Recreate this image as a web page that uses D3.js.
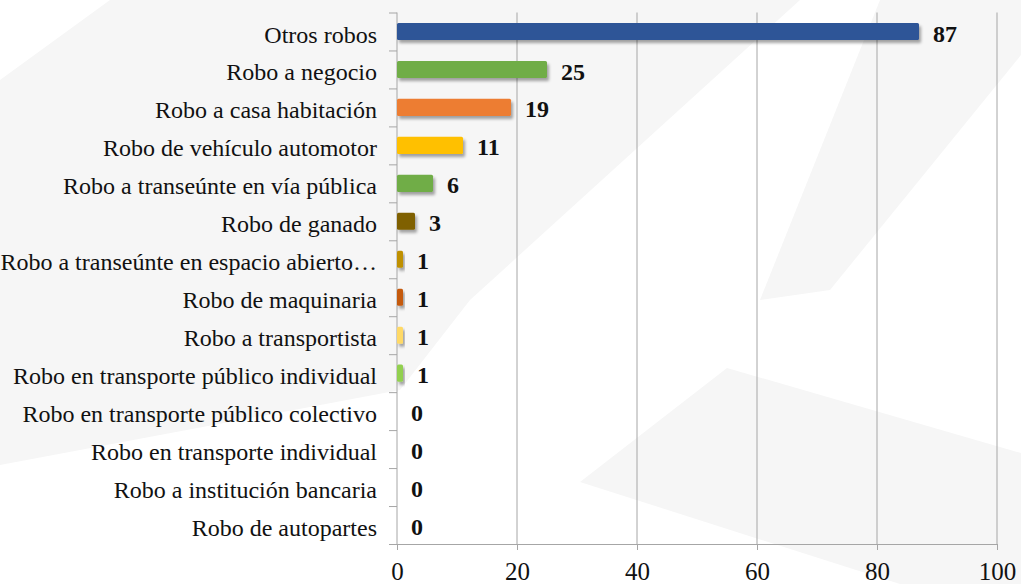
<!DOCTYPE html>
<html>
<head>
<meta charset="utf-8">
<script src="https://cdn.jsdelivr.net/npm/d3@7"></script>
<style>
  html, body { margin: 0; padding: 0; background: #fff; }
  #chart { width: 1021px; height: 584px; }
  svg text { font-family: "Liberation Serif", "Times New Roman", Tinos, "DejaVu Serif", serif; }
</style>
</head>
<body>
<div id="chart"></div>
<script>
// datos
const categories = [
  "Otros robos",
  "Robo a negocio",
  "Robo a casa habitación",
  "Robo de vehículo automotor",
  "Robo a transeúnte en vía pública",
  "Robo de ganado",
  "Robo a transeúnte en espacio abierto…",
  "Robo de maquinaria",
  "Robo a transportista",
  "Robo en transporte público individual",
  "Robo en transporte público colectivo",
  "Robo en transporte individual",
  "Robo a institución bancaria",
  "Robo de autopartes"
];
const values = [87, 25, 19, 11, 6, 3, 1, 1, 1, 1, 0, 0, 0, 0];
const barColors = [
  "#2F5597", "#70AD47", "#ED7D31", "#FFC000", "#70AD47", "#7F6000", "#BF9000",
  "#C55A11", "#FFD966", "#92D050", "#A9D18E", "#A9D18E", "#A9D18E", "#A9D18E"
];
const xTicks = [0, 20, 40, 60, 80, 100];

const W = 1021, H = 584;
const margin = { top: 12.5, right: 24, bottom: 40, left: 397 };
const width = W - margin.left - margin.right;
const height = H - margin.top - margin.bottom;

const svgRoot = d3.select("#chart").append("svg")
  .attr("width", W).attr("height", H);

// fondo con marca de agua diagonal (decorativo)
const bg = svgRoot.append("g");
bg.append("rect").attr("width", W).attr("height", H).attr("fill", "#fff");
const wm = [
  [[110, 0], [800, 0], [470, 300], [400, 390], [0, 465], [0, 80]],
  [[880, 0], [1021, 0], [1021, 55], [830, 290], [760, 300]],
  [[727, 368], [1021, 453], [1021, 584], [900, 584], [580, 482]]
];
bg.selectAll("polygon").data(wm).join("polygon")
  .attr("points", d => d.map(p => p.join(",")).join(" "))
  .attr("fill", "#f6f6f6");

const defs = svgRoot.append("defs");
const f = defs.append("filter").attr("id", "sombra")
  .attr("x", "-20%").attr("y", "-40%").attr("width", "150%").attr("height", "200%");
f.append("feDropShadow").attr("dx", 2).attr("dy", 3).attr("stdDeviation", 1.8)
  .attr("flood-color", "#000").attr("flood-opacity", 0.35);

const svg = svgRoot.append("g")
  .attr("transform", `translate(${margin.left},${margin.top})`);

const x = d3.scaleLinear().domain([0, 100]).range([0, width]);
const y = d3.scaleBand().domain(categories).range([0, height])
  .paddingInner(0.55).paddingOuter(0.275);
// límites de cada categoría, para las marcas del eje vertical
const yEdges = d3.scaleLinear().domain([0, categories.length]).range([0, height]);

// líneas de cuadrícula verticales
svg.append("g")
  .selectAll("line")
  .data(xTicks.filter(t => t > 0))
  .join("line")
  .attr("x1", d => x(d)).attr("x2", d => x(d))
  .attr("y1", 0).attr("y2", height)
  .attr("stroke", "#a6a6a6").attr("stroke-width", 1);

// eje X
const gx = svg.append("g")
  .attr("transform", `translate(0,${height})`)
  .call(d3.axisBottom(x).tickValues(xTicks).tickSize(6).tickPadding(12).tickFormat(d3.format("d")));
gx.select(".domain").attr("stroke", "#a6a6a6");
gx.selectAll(".tick line").attr("stroke", "#a6a6a6");
gx.selectAll("text")
  .attr("fill", "#111")
  .attr("font-family", null)
  .style("font-size", "25px");

// eje Y: línea y marcas en los límites
const gy = svg.append("g")
  .call(d3.axisLeft(yEdges).tickValues(d3.range(categories.length + 1)).tickSize(8).tickFormat(""));
gy.select(".domain").attr("stroke", "#a6a6a6").attr("d", `M0,0V${height}`);
gy.selectAll(".tick line").attr("stroke", "#a6a6a6");

// etiquetas de categoría
svg.append("g")
  .selectAll("text")
  .data(categories)
  .join("text")
  .attr("x", -20)
  .attr("y", d => y(d) + y.bandwidth() / 2)
  .attr("dy", "0.46em")
  .attr("text-anchor", "end")
  .attr("fill", "#111")
  .style("font-size", "24px")
  .text(d => d);

const data = categories.map((c, i) => ({ cat: c, val: values[i], color: barColors[i] }));

// barras
svg.append("g")
  .selectAll("rect")
  .data(data.filter(d => d.val > 0))
  .join("rect")
  .attr("x", x(0))
  .attr("y", d => y(d.cat))
  .attr("width", d => x(d.val) - x(0))
  .attr("height", y.bandwidth())
  .attr("rx", 1.5)
  .attr("fill", d => d.color)
  .attr("filter", "url(#sombra)");

// valores
svg.append("g")
  .selectAll("text")
  .data(data)
  .join("text")
  .attr("x", d => x(d.val) + 14)
  .attr("y", d => y(d.cat) + y.bandwidth() / 2)
  .attr("dy", "0.42em")
  .attr("fill", "#111")
  .style("font-size", "24px")
  .style("font-weight", "bold")
  .text(d => d.val);
</script>
</body>
</html>
